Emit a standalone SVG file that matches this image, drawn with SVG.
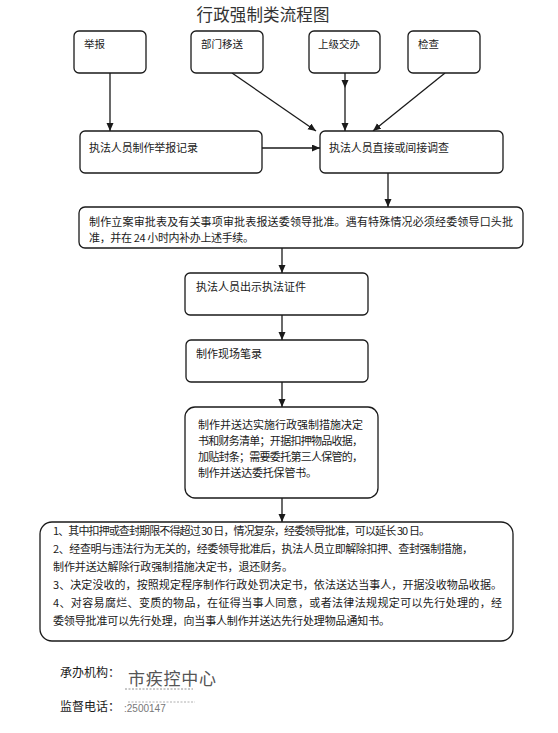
<svg xmlns="http://www.w3.org/2000/svg" width="558" height="733" viewBox="0 0 558 733">
<style>
.box{fill:#fff;stroke:#1a1a1a;stroke-width:1.3}
.t{font-family:"Noto Sans CJK SC","Liberation Sans",sans-serif;font-size:10.5px;fill:#1a1a1a}
.s{font-family:"Noto Sans CJK SC","Liberation Sans",sans-serif;font-size:11px;fill:#1a1a1a}
.c{stroke:#1a1a1a;stroke-width:1.3;fill:none;marker-end:url(#ah)}
</style>
<defs>
<marker id="ah" markerUnits="userSpaceOnUse" markerWidth="9" markerHeight="8" refX="8" refY="3.5" orient="auto">
<path d="M0,0 L8,3.5 L0,7 z" fill="#1a1a1a"/>
</marker>
</defs>
<rect width="558" height="733" fill="#fff"/>
<text x="263" y="21" text-anchor="middle" font-family="'Noto Sans CJK SC',sans-serif" font-size="16.5" fill="#333" textLength="133">行政强制类流程图</text>

<g id="connectors">
<path class="c" d="M110,73 L110,131"/>
<path class="c" d="M232,73 L316,131"/>
<path class="c" d="M345,73 L345,88 L345,131" marker-mid="url(#ah)"/>
<path class="c" d="M445,73 L373,131"/>
<path class="c" d="M262,148 L320,148"/>
<path class="c" d="M388,173 L388,207"/>
<path class="c" d="M282,248 L282,273"/>
<path class="c" d="M282,315 L282,340"/>
<path class="c" d="M282,382 L282,407"/>
<path class="c" d="M282,498 L282,522"/>
</g>

<g id="n1"><rect class="box" x="74" y="31" width="72" height="42" rx="5"/><text class="t" x="84" y="48">举报</text></g>
<g id="n2"><rect class="box" x="191" y="31" width="72" height="42" rx="5"/><text class="t" x="201" y="48">部门移送</text></g>
<g id="n3"><rect class="box" x="309" y="31" width="71" height="42" rx="5"/><text class="t" x="318" y="48">上级交办</text></g>
<g id="n4"><rect class="box" x="408" y="31" width="72" height="42" rx="5"/><text class="t" x="418" y="48">检查</text></g>

<g id="n5"><rect class="box" x="80" y="131" width="182" height="42" rx="5"/><text class="s" x="89" y="152" textLength="109">执法人员制作举报记录</text></g>
<g id="n6"><rect class="box" x="320" y="131" width="183" height="42" rx="5"/><text class="s" x="329" y="152" textLength="120">执法人员直接或间接调查</text></g>

<g id="n7"><rect class="box" x="79" y="207" width="444" height="41" rx="6"/>
<text class="s" x="89" y="226" textLength="424">制作立案审批表及有关事项审批表报送委领导批准。遇有特殊情况必须经委领导口头批</text>
<text class="s" x="89" y="242" textLength="165">准，并在 24 小时内补办上述手续。</text></g>

<g id="n8"><rect class="box" x="185" y="273" width="183" height="42" rx="5"/><text class="s" x="196" y="291">执法人员出示执法证件</text></g>
<g id="n9"><rect class="box" x="186" y="340" width="182" height="42" rx="5"/><text class="s" x="196" y="358">制作现场笔录</text></g>

<g id="n10"><rect class="box" x="185" y="407" width="193" height="91" rx="10"/>
<text class="s" x="198" y="429" textLength="165">制作并送达实施行政强制措施决定</text>
<text class="s" x="198" y="445" textLength="165">书和财务清单；开据扣押物品收据，</text>
<text class="s" x="198" y="461" textLength="165">加贴封条；需要委托第三人保管的，</text>
<text class="s" x="198" y="477" textLength="119">制作并送达委托保管书。</text></g>

<g id="n11"><rect class="box" x="40" y="522" width="473" height="119" rx="12"/>
<text class="s" x="53" y="535" textLength="377">1、其中扣押或查封期限不得超过 30 日，情况复杂，经委领导批准，可以延长 30 日。</text>
<text class="s" x="53" y="553" textLength="420">2、经查明与违法行为无关的，经委领导批准后，执法人员立即解除扣押、查封强制措施，</text>
<text class="s" x="53" y="571" textLength="240">制作并送达解除行政强制措施决定书，退还财务。</text>
<text class="s" x="53" y="589" textLength="449">3、决定没收的，按照规定程序制作行政处罚决定书，依法送达当事人，开据没收物品收据。</text>
<text class="s" x="53" y="607" textLength="449">4、对容易腐烂、变质的物品，在征得当事人同意，或者法律法规规定可以先行处理的，经</text>
<text class="s" x="53" y="625" textLength="337">委领导批准可以先行处理，向当事人制作并送达先行处理物品通知书。</text></g>

<g id="footer">
<text x="60" y="677" font-family="'Noto Sans CJK SC',sans-serif" font-size="12" fill="#1a1a1a">承办机构：</text>
<text x="128" y="685" font-family="'Noto Sans CJK SC',sans-serif" font-size="17" fill="#555" textLength="88">市疾控中心</text>
<line x1="125" y1="689" x2="193" y2="689" stroke="#777" stroke-width="0.8" stroke-dasharray="2,1.5"/>
<text x="60" y="711" font-family="'Noto Sans CJK SC',sans-serif" font-size="12" fill="#1a1a1a">监督电话：</text>
<line x1="128" y1="702" x2="195" y2="702" stroke="#999" stroke-width="0.8" stroke-dasharray="2,1.5"/>
<text x="124" y="712" font-family="'Liberation Sans',sans-serif" font-size="10" fill="#777">:2500147</text>
</g>
</svg>
